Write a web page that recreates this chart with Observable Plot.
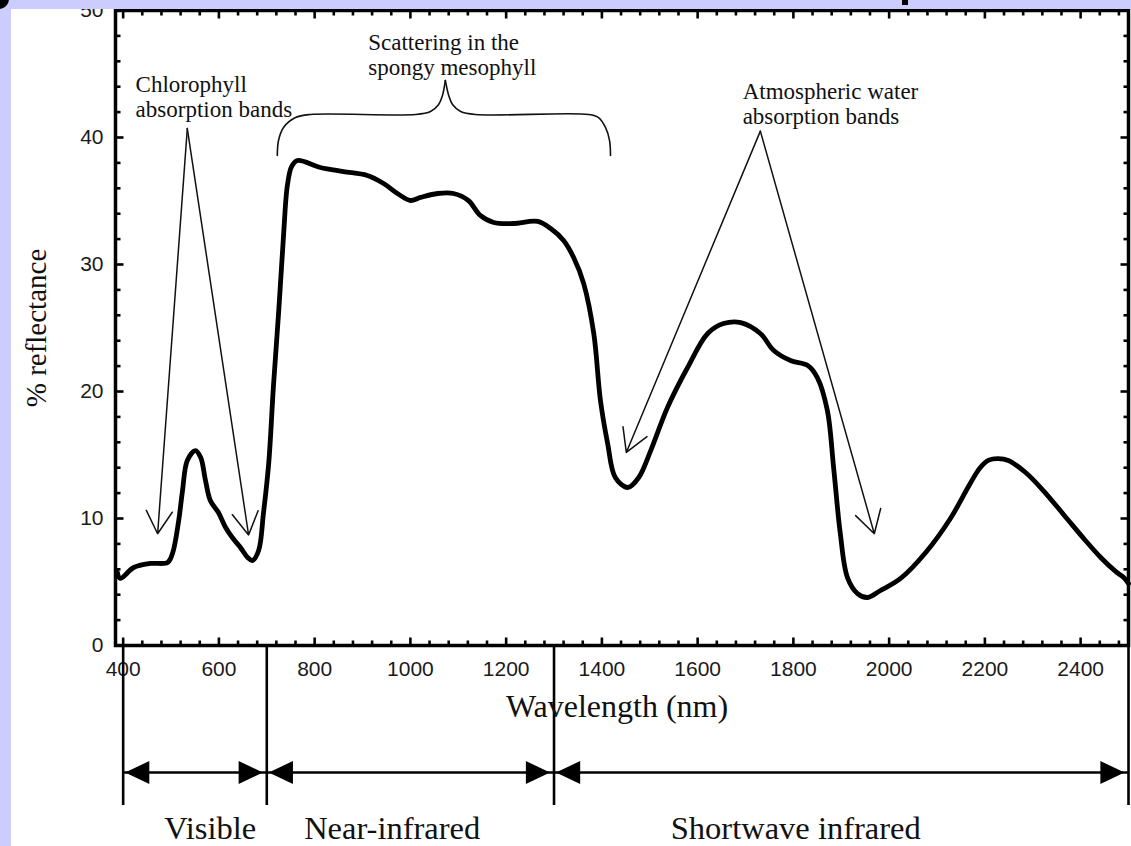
<!DOCTYPE html>
<html><head><meta charset="utf-8">
<script src="https://cdn.jsdelivr.net/npm/d3@7"></script>
<script src="https://cdn.jsdelivr.net/npm/@observablehq/plot@0.6"></script>
<style>
html,body{margin:0;padding:0;background:#fff;}
body{width:1131px;height:846px;overflow:hidden;position:relative;}
#chart{position:absolute;left:0;top:0;}
.deco{position:absolute;}
</style></head>
<body>
<div id="chart"></div>
<div class="deco" style="left:0;top:0;width:1131px;height:9px;background:#ccccff;"></div>
<div class="deco" style="left:0;top:0;width:11px;height:846px;background:#ccccff;"></div>
<div class="deco" style="left:-11px;top:-11px;width:20px;height:20px;border-radius:50%;background:#000;"></div>
<div class="deco" style="left:902px;top:0;width:6px;height:5px;background:#000;"></div>
<script>
// ---- spectral curve (wavelength nm, % reflectance) ----
const wavelength = [388,394,422,457,493,503,516,524,534,551,562,572,582,599,614,628,645,660,670,683,693,704,714,725,735,743,752,764,812,860,910,944,973,1000,1021,1057,1090,1121,1146,1174,1215,1266,1293,1320,1341,1362,1383,1397,1412,1428,1454,1477,1502,1537,1579,1621,1654,1690,1731,1759,1794,1830,1850,1871,1884,1898,1913,1934,1955,1982,2024,2076,2128,2167,2190,2208,2228,2249,2285,2322,2366,2410,2442,2473,2490,2500];
const reflectance = [5.75,5.28,6.14,6.46,6.54,7.24,9.84,12.2,14.57,15.35,14.8,12.99,11.42,10.47,9.29,8.5,7.72,6.93,6.69,7.48,10.39,14.33,20.47,26.38,32.28,36.22,37.72,38.19,37.64,37.32,37.01,36.38,35.59,35.04,35.28,35.59,35.59,35.04,33.86,33.31,33.23,33.39,32.83,31.89,30.55,28.5,24.57,19.29,15.91,13.23,12.44,13.23,15.35,18.74,21.89,24.57,25.35,25.43,24.57,23.23,22.44,22.05,21.1,18.5,14.02,8.82,5.35,4.09,3.78,4.33,5.28,7.3,10.0,12.6,14.0,14.6,14.72,14.57,13.62,12.2,10.24,8.27,6.93,5.83,5.35,4.88];

// ---- axes ----
const xTickValues = [400,600,800,1000,1200,1400,1600,1800,2000,2200,2400];
const yTickValues = [0,10,20,30,40,50];
const xMinorTicks = d3.range(440, 2500, 40).filter(d => d % 200 !== 0);
const yMinorTicks = d3.range(2, 50, 2).filter(d => d % 10 !== 0);

// ---- spectral regions ----
const bandNames = ["Visible", "Near-infrared", "Shortwave infrared"];
const bandStart = [400, 700, 1300];
const bandEnd = [700, 1300, 2500];
const bandLabelX = [582, 962, 1805];
const bandBounds = [400, 700, 1300, 2500];

// ---- annotations ----
const noteText = ["Chlorophyll\nabsorption bands", "Scattering in the\nspongy mesophyll", "Atmospheric water\nabsorption bands"];
const noteX = [426, 912, 1694];
const noteY = [44.98, 48.3, 44.43];
const arrowFromX = [534, 534, 1731, 1731];
const arrowFromY = [40.7, 40.7, 40.5, 40.5];
const arrowToX = [472, 662, 1451, 1969];
const arrowToY = [8.8, 8.7, 15.2, 8.8];
const braceX = [722,724.5,735,760,791,1011,1042,1059,1067,1073, 1073,1080,1088,1105,1136,1372,1393,1407.5,1416,1418];
const braceY = [38.58,39.76,40.79,41.57,41.81,41.81,42.05,42.6,43.31,44.49, 44.49,43.31,42.6,42.05,41.81,41.81,41.57,40.79,39.76,38.58];
const braceSide = ["L","L","L","L","L","L","L","L","L","L","R","R","R","R","R","R","R","R","R","R"];

// tables
const spectrum = wavelength.map((w, i) => ({w, r: reflectance[i]}));
const bands = bandNames.map((name, i) => ({name, start: bandStart[i], end: bandEnd[i], lx: bandLabelX[i]}));
const notes = noteText.map((t, i) => ({t, x: noteX[i], y: noteY[i]}));
const arrows = arrowFromX.map((x1, i) => ({x1, y1: arrowFromY[i], x2: arrowToX[i], y2: arrowToY[i]}));
const brace = braceX.map((x, i) => ({x, y: braceY[i], side: braceSide[i]}));

// custom symbols
const seg = (ux, uy) => ({draw(ctx, size) { const l = Math.sqrt(size / Math.PI); ctx.moveTo(0, 0); ctx.lineTo(ux * l, uy * l); }});
const tickUp = seg(0, -1), tickDown = seg(0, 1), tickRight = seg(1, 0), tickLeft = seg(-1, 0);
const headRight = {draw(ctx, size) { const s = Math.sqrt(size / Math.PI); ctx.moveTo(0, 0); ctx.lineTo(-2.1 * s, -s); ctx.lineTo(-2.1 * s, s); ctx.closePath(); }};
const headLeft = {draw(ctx, size) { const s = Math.sqrt(size / Math.PI); ctx.moveTo(0, 0); ctx.lineTo(2.1 * s, -s); ctx.lineTo(2.1 * s, s); ctx.closePath(); }};

const serif = "'Liberation Serif', 'Times New Roman', serif";
const ink = "#111";
const tk = {fill: "none", stroke: "#000", strokeWidth: 2.6};

const chart = Plot.plot({
  width: 1131, height: 846,
  marginLeft: 115, marginRight: 3, marginTop: 10, marginBottom: 201,
  style: {fontFamily: "'Liberation Sans', Arial, sans-serif", fontSize: "21px", color: "#1a1a1a", background: "#fff", overflow: "visible"},
  x: {domain: [384, 2500], ticks: xTickValues, tickFormat: d => String(d), tickSize: 0, tickPadding: 16, label: null},
  y: {domain: [0, 50], ticks: yTickValues, tickFormat: d => String(d), tickSize: 0, tickPadding: 12, label: null},
  marks: [
    // inward ticks on all four sides
    Plot.dot(xMinorTicks, {x: d => d, y: 0, symbol: tickUp, r: 5, ...tk}),
    Plot.dot(xTickValues, {x: d => d, y: 0, symbol: tickUp, r: 8, ...tk}),
    Plot.dot(xMinorTicks, {x: d => d, y: 50, symbol: tickDown, r: 5, ...tk}),
    Plot.dot(xTickValues, {x: d => d, y: 50, symbol: tickDown, r: 8, ...tk}),
    Plot.dot(yMinorTicks, {x: 384, y: d => d, symbol: tickRight, r: 5, ...tk}),
    Plot.dot(yTickValues, {x: 384, y: d => d, symbol: tickRight, r: 8, ...tk}),
    Plot.dot(yMinorTicks, {x: 2500, y: d => d, symbol: tickLeft, r: 5, ...tk}),
    Plot.dot(yTickValues, {x: 2500, y: d => d, symbol: tickLeft, r: 8, ...tk}),
    Plot.frame({stroke: "#000", strokeWidth: 3.5}),
    // spectrum
    Plot.line(spectrum, {x: "w", y: "r", curve: "catmull-rom", stroke: "#000", strokeWidth: 4.8, strokeLinejoin: "round", strokeLinecap: "round"}),
    // annotations
    Plot.arrow(arrows, {x1: "x1", y1: "y1", x2: "x2", y2: "y2", headLength: 26, headAngle: 60, stroke: ink, strokeWidth: 1.5}),
    Plot.line(brace, {x: "x", y: "y", z: "side", curve: "catmull-rom", stroke: ink, strokeWidth: 1.6}),
    Plot.text(notes, {x: "x", y: "y", text: "t", textAnchor: "start", lineAnchor: "top", lineHeight: 1.08, fontFamily: serif, fontSize: 23, fill: ink}),
    // spectral regions below the axis
    Plot.ruleX(bandBounds, {x: d => d, y1: 0, y2: -12.6, stroke: "#000", strokeWidth: 2.6}),
    Plot.link(bands, {x1: "start", x2: "end", y1: -10, y2: -10, stroke: "#000", strokeWidth: 2.6}),
    Plot.dot(bands, {x: "start", y: -10, dx: 2, symbol: headLeft, r: 11.5, fill: "#000", stroke: "none"}),
    Plot.dot(bands, {x: "end", y: -10, dx: -4, symbol: headRight, r: 11.5, fill: "#000", stroke: "none"}),
    Plot.text(bands, {x: "lx", y: -14.45, text: "name", fontFamily: serif, fontSize: 32.5, fill: ink}),
    // axis titles
    Plot.text(["Wavelength (nm)"], {text: d => d, frameAnchor: "bottom", dx: -5, dy: 71, fontFamily: serif, fontSize: 32, fill: ink}),
    Plot.text(["% reflectance"], {text: d => d, frameAnchor: "left", textAnchor: "middle", dx: -79, rotate: -90, fontFamily: serif, fontSize: 29, fill: ink})
  ]
});
document.getElementById("chart").appendChild(chart);
</script>
</body></html>
